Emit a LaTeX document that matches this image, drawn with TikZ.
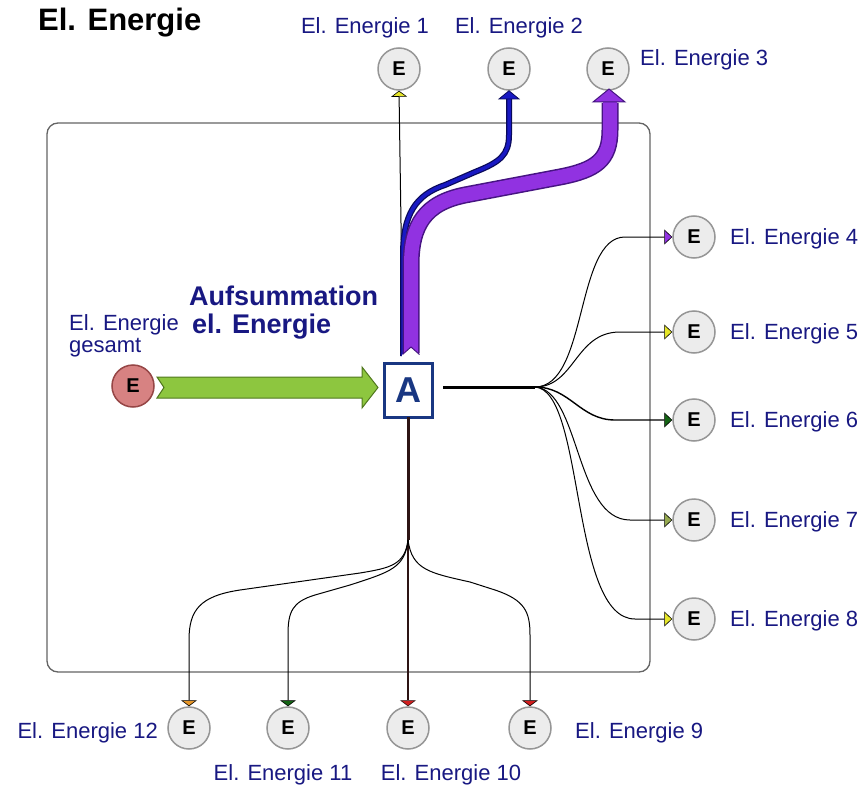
\documentclass[tikz,border=0pt]{standalone}
\usepackage{fontspec}
\setmainfont{Liberation Sans}
\usetikzlibrary{arrows.meta}
\definecolor{lblue}{RGB}{24,24,130}
\definecolor{circfill}{RGB}{236,236,236}
\definecolor{circdraw}{RGB}{150,150,150}
\definecolor{srcfill}{RGB}{215,130,130}
\definecolor{srcdraw}{RGB}{150,70,70}
\definecolor{grfill}{RGB}{141,198,63}
\definecolor{grdraw}{RGB}{80,120,30}
\definecolor{boxblue}{RGB}{25,55,130}
\definecolor{purp}{RGB}{145,50,225}
\definecolor{purpd}{RGB}{70,20,130}
\definecolor{bluel}{RGB}{25,25,195}
\definecolor{bluedk}{RGB}{10,10,90}
\definecolor{tipyel}{RGB}{230,230,40}
\definecolor{tipdgreen}{RGB}{20,100,20}
\definecolor{tipolive}{RGB}{150,170,80}
\definecolor{tiporange}{RGB}{230,150,40}
\definecolor{tipred}{RGB}{210,30,30}
\definecolor{trunk}{RGB}{45,20,20}
\tikzset{
  ecirc/.style={circle, draw=circdraw, line width=1.5pt, fill=circfill, minimum size=42pt, inner sep=0pt, font=\fontsize{20}{20}\selectfont\bfseries},
  lbl/.style={text=lblue, font=\fontsize{22}{25}\selectfont, inner sep=0pt},
  thin/.style={line width=1pt, draw=black},
  rtip/.style={-{Triangle[length=8pt,width=15pt,fill=#1,line width=0.6pt]}},
  dtip/.style={-{Triangle[length=6pt,width=16pt,fill=#1,line width=0.6pt]}},
}
\begin{document}
\begin{tikzpicture}[x=1pt,y=-1pt]
\useasboundingbox (0,0) rectangle (865,789);
\fill[white] (0,0) rectangle (865,789);

% title
\node[anchor=west, inner sep=0pt, font=\fontsize{31}{34}\selectfont\bfseries] (title) at (38,23) {El. Energie};

% frame
\draw[draw={rgb,255:red,100;green,100;blue,100}, line width=1.3pt, rounded corners=11pt] (47,123) rectangle (650,672);

% circles
\node[ecirc] (E1) at (399,69) {E};
\node[ecirc] (E2) at (509,69) {E};
\node[ecirc] (E3) at (608,69) {E};
\node[ecirc] (E4) at (694,237) {E};
\node[ecirc] (E5) at (694,332) {E};
\node[ecirc] (E6) at (694,420) {E};
\node[ecirc] (E7) at (694,520) {E};
\node[ecirc] (E8) at (694,619) {E};
\node[ecirc] (E9) at (530,728) {E};
\node[ecirc] (E10) at (408,728) {E};
\node[ecirc] (E11) at (288,728) {E};
\node[ecirc] (E12) at (189,728) {E};
\node[ecirc, fill=srcfill, draw=srcdraw] (src) at (133,386) {E};

% labels
\node[lbl] (l1) at (365,28) {El. Energie 1};
\node[lbl] (l2) at (519,28) {El. Energie 2};
\node[lbl, anchor=west] (l3) at (640,60) {El. Energie 3};
\node[lbl, anchor=west] (l4) at (730,239) {El. Energie 4};
\node[lbl, anchor=west] (l5) at (730,334) {El. Energie 5};
\node[lbl, anchor=west] (l6) at (730,422) {El. Energie 6};
\node[lbl, anchor=west] (l7) at (730,522) {El. Energie 7};
\node[lbl, anchor=west] (l8) at (730,621) {El. Energie 8};
\node[lbl, anchor=west] (l9) at (575,733) {El. Energie 9};
\node[lbl] (l10) at (451,775) {El. Energie 10};
\node[lbl] (l11) at (283,775) {El. Energie 11};
\node[lbl, anchor=east] (l12) at (158,733) {El. Energie 12};
\node[lbl, anchor=west] (lsrc1) at (69,325) {El. Energie};
\node[lbl, anchor=west] (lsrc2) at (69,348) {gesamt};
\node[anchor=west, inner sep=0pt, text=lblue, font=\fontsize{27}{30}\selectfont\bfseries] (aufs1) at (189,296) {Aufsummation};
\node[anchor=west, inner sep=0pt, text=lblue, font=\fontsize{27}{30}\selectfont\bfseries] (aufs2) at (192,327) {el. Energie};

% green input arrow
\draw[fill=grfill, draw=grdraw, line width=1pt] (157,377) -- (362,377) -- (362,367) -- (378,387.5) -- (362,408) -- (362,398) -- (157,398) -- (164,387.5) -- cycle;

% box A (placeholder for anchors)
\node[minimum width=48pt, minimum height=54pt, inner sep=0pt] (A) at (408,390) {};

% thin line to E1
\coordinate (a1) at (403,356);
\draw[thin, dtip=tipyel] (a1) -- (E1.south);

% blue line to E2
\coordinate (bb) at (403,356);
\draw[bluedk, line width=6pt] (bb) -- (403,255) .. controls (403,215) and (415,195) .. (445,185) -- (475,172) .. controls (500,162) and (509,155) .. (509,135) -- (509,99);
\draw[bluel, line width=3.5pt] (bb) -- (403,255) .. controls (403,215) and (415,195) .. (445,185) -- (475,172) .. controls (500,162) and (509,155) .. (509,135) -- (509,98);
\draw[fill=bluel, draw=bluedk, line width=0.8pt] (499,99) -- (519,99) -- (E2.south) -- cycle;

% purple wide arrow to E3
\coordinate (pb) at (411,353);
\draw[purpd, line width=17pt] (pb) -- (411,265) .. controls (411,225) and (425,203) .. (465,195) -- (560,177) .. controls (596,170) and (610,160) .. (610,130) -- (610,103);
\draw[purp, line width=14pt] (pb) -- (411,265) .. controls (411,225) and (425,203) .. (465,195) -- (560,177) .. controls (596,170) and (610,160) .. (610,130) -- (610,101);
\draw[fill=purp, draw=purpd, line width=1pt] (593,102) -- (625,102) -- (609,89) -- cycle;
\fill[white] (402,354) -- (420,354) -- (420,360) -- (402,360) -- cycle;
\fill[white] (402.5,354.5) -- (419.5,354.5) -- (411,347) -- cycle;
\draw[purpd, line width=1pt] (402.5,354.5) -- (411,347) -- (419.5,354.5);

% box A on top
\node[draw=boxblue, line width=3pt, fill=white, minimum width=48pt, minimum height=54pt, inner sep=0pt, text=boxblue, font=\fontsize{36}{36}\selectfont\bfseries] (A2) at (A) {A};

% right fan
\coordinate (ar) at (443,387);
\coordinate (jr) at (535,387);
\draw[black, line width=3pt] (ar) -- (jr);
\draw[thin, rtip=purp] (jr) .. controls (588,387) and (575,237) .. (625,237) -- (E4.west);
\draw[thin, rtip=tipyel] (jr) .. controls (575,387) and (575,332) .. (620,332) -- (E5.west);
\draw[line width=1.4pt, rtip=tipdgreen] (jr) .. controls (570,387) and (580,420) .. (615,420) -- (E6.west);
\draw[thin, rtip=tipolive] (jr) .. controls (580,390) and (575,520) .. (630,520) -- (E7.west);
\draw[thin, rtip=tipyel] (jr) .. controls (585,390) and (570,619) .. (635,619) -- (E8.west);

% bottom fan
\coordinate (jb) at (408,540);
\draw[trunk, line width=3pt] (A.south) -- (jb);
\draw[trunk, line width=2.5pt, dtip=tipred] (jb) -- (E10.north);
\draw[thin, dtip=tiporange] (jb) .. controls (405,565) and (390,568) .. (360,573) -- (240,590) .. controls (200,596) and (189,610) .. (189,640) -- (E12.north);
\draw[thin, dtip=tipdgreen] (jb) .. controls (405,568) and (390,572) .. (350,585) -- (315,595) .. controls (292,602) and (288,612) .. (288,635) -- (E11.north);
\draw[thin, dtip=tipred] (jb) .. controls (412,570) and (430,573) .. (470,582) -- (495,590) .. controls (525,600) and (530,612) .. (530,635) -- (E9.north);
\end{tikzpicture}
\end{document}
